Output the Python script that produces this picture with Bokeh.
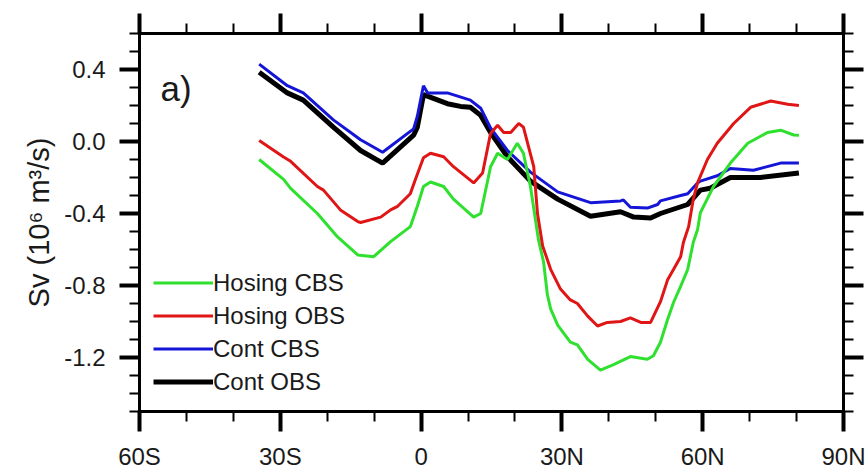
from bokeh.plotting import figure
from bokeh.models import (Range1d, FixedTicker, LinearAxis, Legend, LegendItem,
                          Label, CustomJSTickFormatter, NumeralTickFormatter)
from bokeh.embed import file_html
from bokeh.resources import INLINE

# ---- data (latitude in degrees, transport in Sv) ----
lat_hosing_cbs = [-34.5, -29.3, -27.8, -22.1, -17.8, -13.5, -10.1, -6.5, -2.3, -0.8, 0.5, 2.0,
                  4.8, 6.9, 11.2, 12.7, 14.8, 16.3, 18.4, 20.5, 21.8, 23.3, 25.0, 26.1, 26.9,
                  27.6, 29.1, 31.8, 33.3, 35.5, 38.2, 41.0, 44.6, 48.2, 49.5, 51.0, 52.5, 53.8,
                  55.3, 56.8, 58.0, 58.9, 59.5, 62.3, 65.9, 69.6, 73.8, 76.6, 79.4, 80.5]
val_hosing_cbs = [-0.10, -0.21, -0.26, -0.40, -0.53, -0.63, -0.64, -0.556, -0.473, -0.36, -0.25,
                  -0.225, -0.25, -0.32, -0.42, -0.40, -0.14, -0.065, -0.10, -0.01, -0.065, -0.25,
                  -0.545, -0.67, -0.85, -0.93, -1.02, -1.115, -1.13, -1.21, -1.27, -1.24, -1.195,
                  -1.21, -1.19, -1.115, -0.99, -0.893, -0.805, -0.711, -0.56, -0.49, -0.396,
                  -0.25, -0.12, -0.01, 0.05, 0.063, 0.036, 0.035]

lat_hosing_obs = [-34.5, -29.3, -27.8, -22.1, -20.8, -17.2, -13.5, -12.9, -8.6, -6.5, -5.0, -2.3,
                  -1.2, 0.5, 2.0, 4.8, 6.9, 11.2, 13.1, 14.8, 16.3, 17.6, 19.1, 20.8, 21.8, 24.0,
                  24.8, 25.9, 27.6, 29.7, 31.8, 33.3, 35.5, 37.6, 39.7, 42.5, 44.6, 46.8, 48.9,
                  51.0, 52.5, 53.8, 55.3, 55.9, 57.0, 58.0, 58.9, 61.0, 63.1, 66.6, 70.2, 74.5,
                  78.1, 80.5]
val_hosing_obs = [0.005, -0.086, -0.11, -0.25, -0.27, -0.38, -0.445, -0.45, -0.42, -0.38, -0.36,
                  -0.29, -0.21, -0.09, -0.065, -0.085, -0.14, -0.23, -0.175, 0.045, 0.09, 0.05,
                  0.05, 0.10, 0.08, -0.14, -0.40, -0.58, -0.71, -0.82, -0.88, -0.90, -0.97,
                  -1.025, -1.005, -1.0, -0.98, -1.005, -1.005, -0.89, -0.77, -0.71, -0.64,
                  -0.56, -0.473, -0.32, -0.23, -0.10, -0.01, 0.10, 0.19, 0.225, 0.207, 0.20]

lat_cont_cbs = [-34.5, -28.5, -25.1, -18.7, -12.9, -8.2, -1.6, -0.8, 0.5, 1.4, 5.6, 10.5, 12.7,
                14.8, 18.4, 23.3, 29.1, 36.1, 42.5, 43.1, 44.6, 48.2, 50.4, 51.0, 55.3, 56.8,
                58.9, 59.5, 63.1, 65.9, 70.8, 76.6, 80.5]
val_cont_cbs = [0.43, 0.31, 0.27, 0.12, 0.01, -0.06, 0.07, 0.14, 0.31, 0.27, 0.27, 0.23, 0.185,
                0.075, -0.05, -0.17, -0.28, -0.34, -0.33, -0.325, -0.365, -0.37, -0.35, -0.33,
                -0.30, -0.29, -0.23, -0.22, -0.19, -0.15, -0.16, -0.12, -0.12]

lat_cont_obs = [-34.5, -28.5, -25.1, -18.7, -12.9, -8.2, -1.6, -0.8, 0.5, 5.6, 8.4, 10.5, 12.7,
                14.8, 18.4, 23.3, 29.1, 36.1, 42.5, 45.3, 48.9, 51.0, 56.8, 59.5, 61.6, 65.9,
                72.3, 80.5]
val_cont_obs = [0.385, 0.27, 0.23, 0.08, -0.05, -0.12, 0.035, 0.08, 0.26, 0.21, 0.195, 0.19,
                0.145, 0.05, -0.085, -0.22, -0.32, -0.415, -0.39, -0.42, -0.425, -0.40, -0.35,
                -0.27, -0.26, -0.20, -0.20, -0.175]

series_names = ["Hosing CBS", "Hosing OBS", "Cont CBS", "Cont OBS"]

x_ticks = [-60, -30, 0, 30, 60, 90]
x_tick_labels = ["60S", "30S", "0", "30N", "60N", "90N"]
x_minor_ticks = [-50, -40, -20, -10, 10, 20, 40, 50, 70, 80]
y_ticks = [-1.2, -0.8, -0.4, 0.0, 0.4]
y_minor_ticks = [-1.5, -1.4, -1.3, -1.1, -1.0, -0.9, -0.7, -0.6, -0.5, -0.3, -0.2, -0.1,
                 0.1, 0.2, 0.3, 0.5, 0.6]

FONT = "Liberation Sans"
TXT = "#1a1a1a"

p = figure(width=868, height=472, output_backend="svg", toolbar_location=None,
           x_range=Range1d(-60, 90), y_range=Range1d(-1.5, 0.6),
           min_border_left=139, min_border_right=25, min_border_top=33, min_border_bottom=59)
p.background_fill_color = "white"
p.border_fill_color = "white"
p.outline_line_color = "black"
p.outline_line_width = 3
p.xgrid.visible = False
p.ygrid.visible = False

def style_axis(ax, ticks, minor):
    ax.ticker = FixedTicker(ticks=ticks, minor_ticks=minor)
    ax.axis_line_width = 3
    ax.axis_line_color = "black"
    ax.major_tick_in = 0
    ax.major_tick_out = 20
    ax.major_tick_line_width = 4
    ax.minor_tick_in = 0
    ax.minor_tick_out = 10
    ax.minor_tick_line_width = 2
    ax.major_label_text_font = FONT
    ax.major_label_text_font_size = "24px"
    ax.major_label_text_color = TXT

xb = p.xaxis[0]
style_axis(xb, x_ticks, x_minor_ticks)
xb.major_label_overrides = dict(zip(x_ticks, x_tick_labels))
xb.major_label_standoff = 11

yl = p.yaxis[0]
style_axis(yl, y_ticks, y_minor_ticks)
yl.formatter = NumeralTickFormatter(format="0.0")
yl.major_label_standoff = 14
yl.axis_label = "Sv (10\u2076 m\u00b3/s)"
yl.axis_label_text_font = FONT
yl.axis_label_text_font_size = "29px"
yl.axis_label_text_font_style = "normal"
yl.axis_label_text_color = TXT
yl.axis_label_standoff = 6

blank = CustomJSTickFormatter(code="return ''")
xt = LinearAxis()
style_axis(xt, x_ticks, x_minor_ticks)
xt.formatter = blank
p.add_layout(xt, "above")
yr = LinearAxis()
style_axis(yr, y_ticks, y_minor_ticks)
yr.formatter = blank
p.add_layout(yr, "right")

r_black = p.line(lat_cont_obs, val_cont_obs, line_color="black", line_width=5)
r_blue = p.line(lat_cont_cbs, val_cont_cbs, line_color="#1515d8", line_width=3)
r_green = p.line(lat_hosing_cbs, val_hosing_cbs, line_color="#2fe02f", line_width=3)
r_red = p.line(lat_hosing_obs, val_hosing_obs, line_color="#e01515", line_width=3)

legend = Legend(items=[LegendItem(label=series_names[0], renderers=[r_green]),
                       LegendItem(label=series_names[1], renderers=[r_red]),
                       LegendItem(label=series_names[2], renderers=[r_blue]),
                       LegendItem(label=series_names[3], renderers=[r_black])],
                location=(14, 13), glyph_width=60, glyph_height=33, label_height=33,
                label_standoff=0, spacing=0, padding=0, margin=0,
                border_line_alpha=0, background_fill_alpha=0,
                label_text_font=FONT, label_text_font_size="24px", label_text_color=TXT)
p.add_layout(legend, "center")

p.add_layout(Label(x=-55.5, y=0.296, text="a)", text_font=FONT, text_font_size="35px",
                   text_color=TXT, text_baseline="alphabetic"))

open("out.html", "w").write(file_html(p, INLINE))
